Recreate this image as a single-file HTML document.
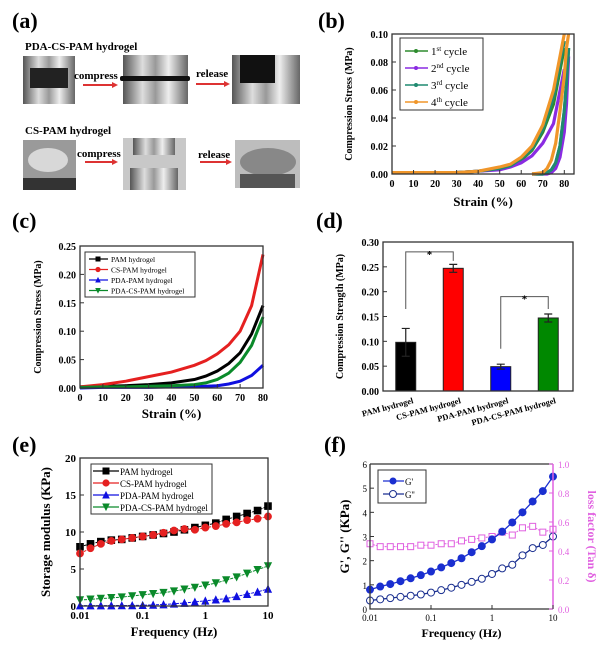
<!DOCTYPE html>
<html><head><meta charset="utf-8"><style>
html,body{margin:0;padding:0;background:#fff;}
body{width:600px;height:658px;position:relative;overflow:hidden;font-family:"Liberation Serif",serif;}
svg{position:absolute;left:0;top:0;}
</style></head><body>
<svg id="fig" width="600" height="658" viewBox="0 0 600 658" font-family="Liberation Serif, serif">
<defs>
<linearGradient id="metal" x1="0" x2="1"><stop offset="0" stop-color="#555"/><stop offset=".3" stop-color="#ddd"/><stop offset=".5" stop-color="#999"/><stop offset=".7" stop-color="#eee"/><stop offset="1" stop-color="#666"/></linearGradient>
</defs>
<g id="panel-a">
<text x="12" y="28" font-size="22" font-weight="bold">(a)</text>
<text x="25" y="50" font-size="11" font-weight="bold">PDA-CS-PAM hydrogel</text>
<g>
<rect x="23" y="56" width="52" height="48" fill="url(#metal)"/><rect x="30" y="68" width="38" height="20" fill="#222"/>
<rect x="123" y="55" width="65" height="49" fill="url(#metal)"/><rect x="120" y="76" width="70" height="5" rx="2" fill="#111"/>
<rect x="232" y="55" width="68" height="49" fill="url(#metal)"/><rect x="240" y="55" width="35" height="28" fill="#111"/>
</g>
<text x="74" y="79" font-size="11" font-weight="bold">compress</text>
<line x1="83" y1="85" x2="112" y2="85" stroke="#d33" stroke-width="2"/><polygon points="112,82 118,85 112,88" fill="#d33"/>
<text x="196" y="77" font-size="11" font-weight="bold">release</text>
<line x1="196" y1="84" x2="224" y2="84" stroke="#d33" stroke-width="2"/><polygon points="224,81 230,84 224,87" fill="#d33"/>
<text x="25" y="134" font-size="11" font-weight="bold">CS-PAM hydrogel</text>
<g>
<rect x="23" y="140" width="53" height="50" fill="#9a9a9a"/><ellipse cx="48" cy="160" rx="20" ry="12" fill="#d8d8d8"/><rect x="23" y="178" width="53" height="12" fill="#333"/>
<rect x="123" y="138" width="63" height="52" fill="#c8c8c8"/><rect x="133" y="138" width="42" height="17" fill="url(#metal)"/><rect x="130" y="168" width="48" height="22" fill="url(#metal)"/>
<rect x="235" y="140" width="65" height="48" fill="#bdbdbd"/><ellipse cx="268" cy="162" rx="28" ry="14" fill="#888"/><rect x="240" y="174" width="55" height="14" fill="#555"/>
</g>
<text x="77" y="157" font-size="11" font-weight="bold">compress</text>
<line x1="85" y1="162" x2="112" y2="162" stroke="#d33" stroke-width="2"/><polygon points="112,159 118,162 112,165" fill="#d33"/>
<text x="198" y="158" font-size="11" font-weight="bold">release</text>
<line x1="200" y1="162" x2="226" y2="162" stroke="#d33" stroke-width="2"/><polygon points="226,159 232,162 226,165" fill="#d33"/>
</g>
</svg>
<script>
// ---- panel b data ----
const strainB=[0,10,20,30,40,50,55,60,65,70,75,80];
const cyc1Load=[0.001,0.001,0.001,0.001,0.002,0.004,0.006,0.01,0.017,0.03,0.05,0.09];
const cyc2Load=[0.001,0.001,0.001,0.001,0.002,0.003,0.005,0.008,0.013,0.022,0.036,0.075];
const cyc3Load=[0.001,0.001,0.001,0.001,0.002,0.004,0.006,0.011,0.018,0.032,0.055,0.095];
const cyc4Load=[0.001,0.001,0.001,0.001,0.002,0.005,0.007,0.012,0.02,0.035,0.06,0.1];
const strainUnload=[65,70,72,74,76,78,80,81,82];
const cyc1Unload=[0,0,0.001,0.003,0.008,0.02,0.045,0.065,0.09];
const cyc2Unload=[0,0,0,0.001,0.004,0.012,0.03,0.05,0.084];
const cyc3Unload=[0,0,0.001,0.003,0.008,0.02,0.045,0.065,0.09];
const cyc4Unload=[0,0.001,0.004,0.01,0.022,0.045,0.07,0.09,0.1];
const bTicksX=[0,10,20,30,40,50,60,70,80];
const bTicksY=[0,0.02,0.04,0.06,0.08,0.10];
// ---- panel c data ----
const strainC=[0,10,20,30,40,50,55,60,65,70,75,80];
const cPAM=[0.002,0.003,0.004,0.006,0.009,0.015,0.021,0.03,0.043,0.062,0.095,0.145];
const cCS=[0.002,0.006,0.012,0.02,0.028,0.04,0.048,0.06,0.076,0.1,0.145,0.235];
const cPDA=[0,0.001,0.001,0.001,0.002,0.002,0.003,0.004,0.007,0.012,0.022,0.04];
const cPDACS=[0.001,0.002,0.002,0.003,0.004,0.006,0.009,0.015,0.026,0.045,0.075,0.125];
const cTicksX=[0,10,20,30,40,50,60,70,80];
const cTicksY=[0,0.05,0.10,0.15,0.20,0.25];
// ---- panel d data ----
const dCats=["PAM hydrogel","CS-PAM hydrogel","PDA-PAM hydrogel","PDA-CS-PAM hydrogel"];
const dVals=[0.098,0.247,0.049,0.147];
const dErr=[0.028,0.008,0.005,0.008];
const dColors=["#000","#f00","#00f","#080"];
const dTicksY=[0,0.05,0.10,0.15,0.20,0.25,0.30];
// ---- panel e data ----
const freqs=[0.01,0.0147,0.0215,0.0316,0.0464,0.0681,0.1,0.147,0.215,0.316,0.464,0.681,1,1.47,2.15,3.16,4.64,6.81,10];
const ePAM=[8.0,8.4,8.7,8.9,9.0,9.2,9.4,9.6,9.8,10.0,10.3,10.6,10.9,11.2,11.7,12.1,12.5,12.9,13.5];
const eCS=[7.1,7.8,8.4,8.8,9.0,9.2,9.4,9.6,9.9,10.2,10.4,10.3,10.6,10.8,11.1,11.3,11.6,11.8,12.1];
const ePDA=[0.05,0.05,0.05,0.06,0.07,0.08,0.1,0.15,0.2,0.3,0.4,0.55,0.7,0.85,1.0,1.3,1.6,1.9,2.3];
const ePDACS=[0.8,0.9,1.0,1.1,1.2,1.35,1.5,1.65,1.8,2.0,2.25,2.5,2.8,3.1,3.5,3.9,4.4,4.9,5.4];
const eTicksY=[0,5,10,15,20];
const logTicks=[0.01,0.1,1,10];
const logTickLabels=["0.01","0.1","1","10"];
// ---- panel f data ----
const fG1=[0.8,0.93,1.03,1.15,1.27,1.4,1.55,1.72,1.9,2.1,2.35,2.6,2.88,3.2,3.58,4.0,4.45,4.88,5.48];
const fG2=[0.35,0.4,0.45,0.5,0.55,0.6,0.68,0.78,0.88,1.0,1.12,1.25,1.45,1.68,1.83,2.22,2.52,2.65,3.0];
const fTan=[0.45,0.43,0.43,0.43,0.43,0.44,0.44,0.45,0.45,0.47,0.48,0.49,0.5,0.53,0.51,0.56,0.57,0.53,0.55];
const fTicksY=[0,1,2,3,4,5,6];
const fTicksY2=[0,0.2,0.4,0.6,0.8,1.0];

const NS="http://www.w3.org/2000/svg";
const svg=document.getElementById('fig');
function mk(tag,attrs,parent){const e=document.createElementNS(NS,tag);for(const k in attrs)e.setAttribute(k,attrs[k]);(parent||svg).appendChild(e);return e;}
function txt(s,x,y,size,anchor,parent,extra){const t=mk('text',Object.assign({x:x,y:y,'font-size':size,'font-weight':'bold','text-anchor':anchor||'middle'},extra||{}),parent);t.textContent=s;return t;}
function lin(d0,d1,r0,r1){return v=>r0+(v-d0)/(d1-d0)*(r1-r0);}
function logs(d0,d1,r0,r1){return v=>r0+(Math.log10(v)-Math.log10(d0))/(Math.log10(d1)-Math.log10(d0))*(r1-r0);}
function frame(g,L,T,R,B){mk('rect',{x:L,y:T,width:R-L,height:B-T,fill:'none',stroke:'#333','stroke-width':1.3},g);}
function yTicks(g,ticks,sy,L,fmt,size,right){ticks.forEach(v=>{const y=sy(v);mk('line',{x1:L,y1:y,x2:right?L-4:L+4,y2:y,stroke:'#333'},g);txt(fmt(v),right?L+4:L-4,y+4,size,right?'start':'end',g);});}
function xTicks(g,ticks,sx,B,labels,size){ticks.forEach((v,i)=>{const x=sx(v);mk('line',{x1:x,y1:B,x2:x,y2:B-4,stroke:'#333'},g);txt(labels?labels[i]:String(v),x,B+13,size,'middle',g);});}
function path(xs,ys,sx,sy){return xs.map((x,i)=>(i?'L':'M')+sx(x).toFixed(1)+','+sy(ys[i]).toFixed(1)).join('');}
function marker(g,shape,x,y,r,col,fill){
 if(shape==='sq')return mk('rect',{x:x-r,y:y-r,width:2*r,height:2*r,fill:fill,stroke:col},g);
 if(shape==='ci')return mk('circle',{cx:x,cy:y,r:r,fill:fill,stroke:col,'stroke-width':1.2},g);
 if(shape==='tu')return mk('polygon',{points:`${x-r},${y+r} ${x+r},${y+r} ${x},${y-r}`,fill:fill,stroke:col},g);
 if(shape==='td')return mk('polygon',{points:`${x-r},${y-r} ${x+r},${y-r} ${x},${y+r}`,fill:fill,stroke:col},g);
}

// ===== panel b =====
(function(){
 const g=mk('g',{});
 
 
 const L=392,R=574,T=34,B=174;
 const sx=lin(0,84.5,L,R), sy=lin(0,0.1,B,T);
 txt('(b)',318,28,22,'start',g);
 const series=[[cyc1Load,cyc1Unload,'#2e8b2e','1','st'],[cyc2Load,cyc2Unload,'#8a2be2','2','nd'],[cyc3Load,cyc3Unload,'#1f8a70','3','rd'],[cyc4Load,cyc4Unload,'#f0962a','4','th']];
 series.forEach((s,i)=>{
  const p1=mk('path',{d:path(strainB,s[0],sx,sy),fill:'none',stroke:s[2],'stroke-width':3.2},g);
  
  
  const p2=mk('path',{d:path(strainUnload,s[1],sx,sy),fill:'none',stroke:s[2],'stroke-width':3.2},g);
  
  
 });
 frame(g,L,T,R,B);
 yTicks(g,bTicksY,sy,L,v=>v.toFixed(2),10);
 xTicks(g,bTicksX,sx,B,null,10);
 const yl=txt('Compression Stress (MPa)',0,0,10,'middle',g,{transform:`translate(352,${(T+B)/2}) rotate(-90)`});
 
 
 const xl=txt('Strain (%)',(L+R)/2,206,13,'middle',g);
 
 
 const lg=mk('g',{},g);
 
 
 mk('rect',{x:400,y:38,width:83,height:72,fill:'#fff',stroke:'#333'},lg);
 series.forEach((s,i)=>{const y=51+i*17;mk('line',{x1:405,y1:y,x2:428,y2:y,stroke:s[2],'stroke-width':1.5},lg);mk('circle',{cx:416,cy:y,r:2,fill:s[2]},lg);
  const t=txt(s[3],431,y+4,11,'start',lg,{'font-weight':'normal'});const sp=document.createElementNS(NS,'tspan');sp.setAttribute('font-size','7');sp.setAttribute('dy','-4');sp.textContent=s[4];t.appendChild(sp);const sp2=document.createElementNS(NS,'tspan');sp2.setAttribute('dy','4');sp2.textContent=' cycle';t.appendChild(sp2);});
})();

// ===== panel c =====
(function(){
 const g=mk('g',{});
 
 
 const L=80,R=263,T=246,B=388;
 const sx=lin(0,80,L,R), sy=lin(0,0.25,B,T);
 txt('(c)',12,228,22,'start',g);
 const series=[[cPAM,'#000','PAM hydrogel','sq'],[cCS,'#e52020','CS-PAM hydrogel','ci'],[cPDA,'#1010e0','PDA-PAM hydrogel','tu'],[cPDACS,'#0a8a2a','PDA-CS-PAM hydrogel','td']];
 series.forEach(s=>{const p=mk('path',{d:path(strainC,s[0],sx,sy),fill:'none',stroke:s[1],'stroke-width':3},g);
  
  });
 frame(g,L,T,R,B);
 yTicks(g,cTicksY,sy,L,v=>v.toFixed(2),10);
 xTicks(g,cTicksX,sx,B,null,10);
 const yl=txt('Compression Stress (MPa)',0,0,10,'middle',g,{transform:`translate(41,${(T+B)/2}) rotate(-90)`});
 
 
 const xl=txt('Strain (%)',(L+R)/2,418,13,'middle',g);
 
 
 const lg=mk('g',{},g);
 
 
 mk('rect',{x:85,y:252,width:110,height:45,fill:'#fff',stroke:'#333'},lg);
 series.forEach((s,i)=>{const y=259+i*10.5;mk('line',{x1:89,y1:y,x2:108,y2:y,stroke:s[1],'stroke-width':1.3},lg);marker(lg,s[3],98,y,2,s[1],s[1]);txt(s[2],111,y+3,7.5,'start',lg,{'font-weight':'normal'});});
})();

// ===== panel d =====
(function(){
 const g=mk('g',{});
 
 
 const L=383,R=573,T=242,B=391;
 const sy=lin(0,0.3,B,T);
 const step=(R-L)/4;
 const cx=i=>L+step*(i+0.5)-1;
 txt('(d)',316,228,22,'start',g);
 dVals.forEach((v,i)=>{
  const r=mk('rect',{x:cx(i)-10,y:sy(v),width:20,height:B-sy(v),fill:dColors[i],stroke:'#222'},g);
  
  
  const e=dErr[i];
  mk('path',{d:`M${cx(i)},${sy(v-e)}V${sy(v+e)}M${cx(i)-4},${sy(v+e)}H${cx(i)+4}M${cx(i)-4},${sy(v-e)}H${cx(i)+4}`,stroke:'#222','stroke-width':1.2,fill:'none'},g);
  const t=txt(dCats[i],cx(i)+8,B+12,8.5,'end',g,{transform:`rotate(-15 ${cx(i)+8} ${B+12})`});
  
  
 });
 const sig=mk('g',{},g);
 
 
 mk('path',{d:`M${cx(0)},${sy(0.165)}V${sy(0.28)}H${cx(1)}V${sy(0.262)}`,fill:'none',stroke:'#555'},sig);
 txt('*',(cx(0)+cx(1))/2,sy(0.28)+6,11,'middle',sig);
 mk('path',{d:`M${cx(2)},${sy(0.085)}V${sy(0.19)}H${cx(3)}V${sy(0.165)}`,fill:'none',stroke:'#555'},sig);
 txt('*',(cx(2)+cx(3))/2,sy(0.19)+6,11,'middle',sig);
 frame(g,L,T,R,B);
 yTicks(g,dTicksY,sy,L,v=>v.toFixed(2),10);
 const yl=txt('Compression Strength (MPa)',0,0,10,'middle',g,{transform:`translate(343,${(T+B)/2}) rotate(-90)`});
 
 
})();

// ===== panel e =====
(function(){
 const g=mk('g',{});
 
 
 const L=80,R=268,T=458,B=606;
 const sx=logs(0.01,10,L,R), sy=lin(0,20,B,T);
 txt('(e)',12,452,22,'start',g);
 const series=[[ePAM,'#000','PAM hydrogel','sq'],[eCS,'#e52020','CS-PAM hydrogel','ci'],[ePDA,'#1010e0','PDA-PAM hydrogel','tu'],[ePDACS,'#0a8a2a','PDA-CS-PAM hydrogel','td']];
 series.forEach(s=>{
  const sg=mk('g',{},g);
  
  
  mk('path',{d:path(freqs,s[0],sx,sy),fill:'none',stroke:s[1],'stroke-width':1,'stroke-dasharray':'3,1'},sg);
  freqs.forEach((f,i)=>{const m=marker(sg,s[3],sx(f),sy(s[0][i]),3.3,s[1],s[1]);
   
   });
 });
 frame(g,L,T,R,B);
 yTicks(g,eTicksY,sy,L,v=>String(v),11);
 xTicks(g,logTicks,sx,B,logTickLabels,11);
 const yl=txt('Storage modulus (KPa)',0,0,13,'middle',g,{transform:`translate(50,${(T+B)/2}) rotate(-90)`});
 
 
 const xl=txt('Frequency (Hz)',(L+R)/2,636,13,'middle',g);
 
 
 const lg=mk('g',{},g);
 
 
 series.forEach((s,i)=>{const y=471+i*12;mk('line',{x1:93,y1:y,x2:119,y2:y,stroke:s[1],'stroke-width':1.3},lg);marker(lg,s[3],106,y,3,s[1],s[1]);txt(s[2],120,y+4,9,'start',lg,{'font-weight':'normal'});});
 mk('rect',{x:91,y:464,width:121,height:50,fill:'none',stroke:'#333'},lg);
})();

// ===== panel f =====
(function(){
 const g=mk('g',{});
 
 
 const L=370,R=553,T=464,B=609;
 const sx=logs(0.01,10,L,R), sy=lin(0,6,B,T), sy2=lin(0,1,B,T);
 txt('(f)',324,452,22,'start',g);
 const tg=mk('g',{},g);
 
 
 mk('path',{d:path(freqs,fTan,sx,sy2),fill:'none',stroke:'#e060e0','stroke-width':1,'stroke-dasharray':'2,1'},tg);
 freqs.forEach((f,i)=>{const m=mk('rect',{x:sx(f)-3,y:sy2(fTan[i])-3,width:6,height:6,fill:'#fff',stroke:'#e060e0'},tg);
  
  });
 [[fG1,'#1a2fd0',true,"G'"],[fG2,'#1a2f90',false,"G''"]].forEach(s=>{
  const sg=mk('g',{},g);
  
  
  mk('path',{d:path(freqs,s[0],sx,sy),fill:'none',stroke:s[1],'stroke-width':1.3},sg);
  freqs.forEach((f,i)=>{const m=mk('circle',{cx:sx(f),cy:sy(s[0][i]),r:3.5,fill:s[2]?s[1]:'#fff',stroke:s[1]},sg);
   
   });
 });
 mk('path',{d:`M${L},${T}V${B}H${R}M${L},${T}H${R}`,fill:'none',stroke:'#333','stroke-width':1.3},g);
 mk('line',{x1:R,y1:T,x2:R,y2:B,stroke:'#e060e0','stroke-width':1.5},g);
 fTicksY.forEach(v=>{const y=sy(v);mk('line',{x1:L,y1:y,x2:L+4,y2:y,stroke:'#333'},g);txt(String(v),L-3,y+4,9,'end',g,{'font-weight':'normal'});});
 fTicksY2.forEach(v=>{const y=sy2(v);mk('line',{x1:R,y1:y,x2:R-4,y2:y,stroke:'#e060e0'},g);txt(v.toFixed(1),R+5,y+4,9,'start',g,{'font-weight':'normal',fill:'#e060e0'});});
 logTicks.forEach((v,i)=>{const x=sx(v);mk('line',{x1:x,y1:B,x2:x,y2:B-4,stroke:'#333'},g);txt(logTickLabels[i],x,B+12,9,'middle',g,{'font-weight':'normal'});});
 const yl=txt("G', G'' (KPa)",0,0,13,'middle',g,{transform:`translate(349,${(T+B)/2}) rotate(-90)`});
 
 
 const y2=txt('loss factor (Tan δ)',0,0,12,'middle',g,{fill:'#e060e0',transform:`translate(588,${(T+B)/2}) rotate(90)`});
 
 
 const xl=txt('Frequency (Hz)',(L+R)/2,637,12,'middle',g);
 
 
 const lg=mk('g',{},g);
 
 
 mk('rect',{x:378,y:470,width:48,height:33,fill:'#fff',stroke:'#333'},lg);
 mk('line',{x1:383,y1:481,x2:404,y2:481,stroke:'#1a2fd0','stroke-width':1.3},lg);mk('circle',{cx:393,cy:481,r:3.5,fill:'#1a2fd0'},lg);txt("G'",405,485,9,'start',lg,{'font-weight':'normal'});
 mk('line',{x1:383,y1:494,x2:404,y2:494,stroke:'#1a2f90','stroke-width':1.3},lg);mk('circle',{cx:393,cy:494,r:3.5,fill:'#fff',stroke:'#1a2f90'},lg);txt("G''",405,498,9,'start',lg,{'font-weight':'normal'});
})();
</script>
</body></html>
